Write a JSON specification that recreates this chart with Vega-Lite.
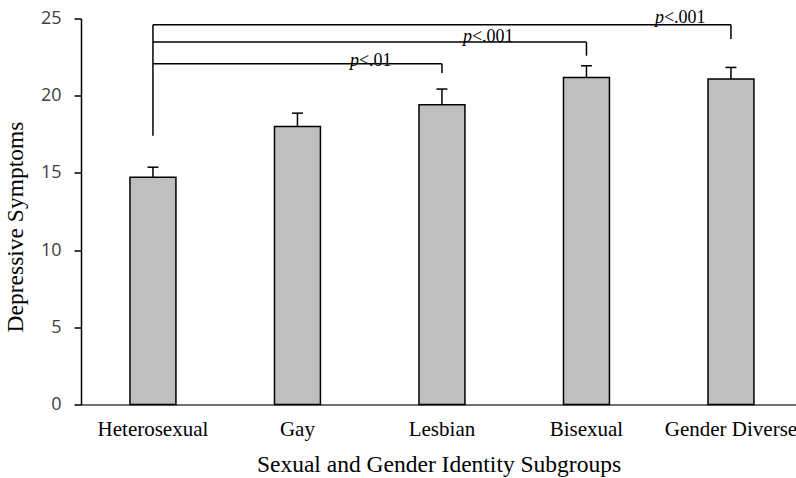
{
  "$schema": "https://vega.github.io/schema/vega-lite/v6.json",
  "width": 715,
  "height": 386,
  "autosize": {"type": "none"},
  "padding": {"left": 81, "top": 18.5, "right": 0, "bottom": 73.5},
  "background": "white",
  "config": {"view": {"stroke": null}},
  "datasets": {
    "bars": [
      {"group": "Heterosexual", "mean": 14.72, "upper": 15.37},
      {"group": "Gay", "mean": 18.0, "upper": 18.87},
      {"group": "Lesbian", "mean": 19.41, "upper": 20.43},
      {"group": "Bisexual", "mean": 21.18, "upper": 21.94},
      {"group": "Gender Diverse", "mean": 21.08, "upper": 21.83}
    ],
    "brackets": [
      {"start": "Heterosexual", "group": "Gender Diverse", "y": 24.6, "drop": 23.67, "sig": "<.001"},
      {"start": "Heterosexual", "group": "Bisexual", "y": 23.47, "drop": 22.59, "sig": "<.001"},
      {"start": "Heterosexual", "group": "Lesbian", "y": 22.07, "drop": 21.47, "sig": "<.01"}
    ],
    "stem": [
      {"group": "Heterosexual", "y": 24.6, "y2": 17.4}
    ]
  },
  "encoding": {
    "x": {
      "field": "group",
      "type": "nominal",
      "scale": {
        "domain": ["Heterosexual", "Gay", "Lesbian", "Bisexual", "Gender Diverse"],
        "paddingInner": 0.682,
        "paddingOuter": 0.315,
        "align": 0.538
      },
      "title": "Sexual and Gender Identity Subgroups",
      "axis": {
        "domainColor": "#404040",
        "domainWidth": 1.5,
        "ticks": false,
        "tickSize": 0,
        "labelAngle": 0,
        "labelFont": "Liberation Serif",
        "labelFontSize": 21,
        "labelColor": "#000000",
        "labelBaseline": "alphabetic",
        "labelPadding": 31,
        "labelOverlap": false,
        "labelFlush": false,
        "labelLimit": 0,
        "titleFont": "Liberation Serif",
        "titleFontSize": 23.5,
        "titleFontWeight": "normal",
        "titleColor": "#000000",
        "titleBaseline": "alphabetic",
        "titleY": 67
      }
    }
  },
  "layer": [
    {
      "data": {"name": "bars"},
      "mark": {"type": "bar", "fill": "#bfbfbf", "stroke": "#000000", "strokeWidth": 1.5},
      "encoding": {
        "y": {
          "field": "mean",
          "type": "quantitative",
          "scale": {"domain": [0, 25], "nice": false},
          "title": "Depressive Symptoms",
          "axis": {
            "values": [0, 5, 10, 15, 20, 25],
            "grid": false,
            "domainColor": "#000000",
            "domainWidth": 1.5,
            "tickColor": "#000000",
            "tickWidth": 1.5,
            "tickSize": 7,
            "labelPadding": 13,
            "labelFont": "Open Sans",
            "labelFontSize": 18,
            "labelColor": "#404040",
            "titleFont": "Liberation Serif",
            "titleFontSize": 23.5,
            "titleFontWeight": "normal",
            "titleColor": "#000000",
            "titleBaseline": "middle",
            "titleAlign": "center",
            "titleAngle": 270,
            "titleX": -66,
            "titleY": 208
          }
        }
      }
    },
    {
      "data": {"name": "bars"},
      "mark": {"type": "rule", "stroke": "#000000", "strokeWidth": 1.5},
      "encoding": {
        "y": {"field": "mean", "type": "quantitative", "title": "Depressive Symptoms"},
        "y2": {"field": "upper"}
      }
    },
    {
      "data": {"name": "bars"},
      "mark": {"type": "tick", "orient": "horizontal", "size": 11, "thickness": 1.5, "color": "#000000", "opacity": 1},
      "encoding": {
        "y": {"field": "upper", "type": "quantitative", "title": "Depressive Symptoms"}
      }
    },
    {
      "data": {"name": "brackets"},
      "mark": {"type": "rule", "stroke": "#000000", "strokeWidth": 1.5},
      "encoding": {
        "x2": {"field": "start"},
        "y": {"field": "y", "type": "quantitative", "title": "Depressive Symptoms"}
      }
    },
    {
      "data": {"name": "brackets"},
      "mark": {"type": "rule", "stroke": "#000000", "strokeWidth": 1.5},
      "encoding": {
        "y": {"field": "y", "type": "quantitative", "title": "Depressive Symptoms"},
        "y2": {"field": "drop"}
      }
    },
    {
      "data": {"name": "stem"},
      "mark": {"type": "rule", "stroke": "#000000", "strokeWidth": 1.5},
      "encoding": {
        "y": {"field": "y", "type": "quantitative", "title": "Depressive Symptoms"},
        "y2": {"field": "y2"}
      }
    },
    {
      "data": {"name": "brackets"},
      "transform": [{"filter": "datum.group == 'Gender Diverse'"}],
      "layer": [
        {
          "mark": {"type": "text", "text": "p", "font": "Liberation Serif", "fontSize": 18, "fontStyle": "italic", "align": "right", "baseline": "alphabetic", "dx": -67, "dy": -2, "color": "#000000"},
          "encoding": {"y": {"field": "y", "type": "quantitative", "title": "Depressive Symptoms"}}
        },
        {
          "mark": {"type": "text", "font": "Liberation Serif", "fontSize": 18, "align": "left", "baseline": "alphabetic", "dx": -67, "dy": -2, "color": "#000000"},
          "encoding": {"y": {"field": "y", "type": "quantitative", "title": "Depressive Symptoms"}, "text": {"field": "sig"}}
        }
      ]
    },
    {
      "data": {"name": "brackets"},
      "transform": [{"filter": "datum.group == 'Bisexual'"}],
      "layer": [
        {
          "mark": {"type": "text", "text": "p", "font": "Liberation Serif", "fontSize": 18, "fontStyle": "italic", "align": "right", "baseline": "alphabetic", "dx": -114.5, "dy": 0, "color": "#000000"},
          "encoding": {"y": {"field": "y", "type": "quantitative", "title": "Depressive Symptoms"}}
        },
        {
          "mark": {"type": "text", "font": "Liberation Serif", "fontSize": 18, "align": "left", "baseline": "alphabetic", "dx": -114.5, "dy": 0, "color": "#000000"},
          "encoding": {"y": {"field": "y", "type": "quantitative", "title": "Depressive Symptoms"}, "text": {"field": "sig"}}
        }
      ]
    },
    {
      "data": {"name": "brackets"},
      "transform": [{"filter": "datum.group == 'Lesbian'"}],
      "layer": [
        {
          "mark": {"type": "text", "text": "p", "font": "Liberation Serif", "fontSize": 18, "fontStyle": "italic", "align": "right", "baseline": "alphabetic", "dx": -83, "dy": 2, "color": "#000000"},
          "encoding": {"y": {"field": "y", "type": "quantitative", "title": "Depressive Symptoms"}}
        },
        {
          "mark": {"type": "text", "font": "Liberation Serif", "fontSize": 18, "align": "left", "baseline": "alphabetic", "dx": -83, "dy": 2, "color": "#000000"},
          "encoding": {"y": {"field": "y", "type": "quantitative", "title": "Depressive Symptoms"}, "text": {"field": "sig"}}
        }
      ]
    }
  ]
}
